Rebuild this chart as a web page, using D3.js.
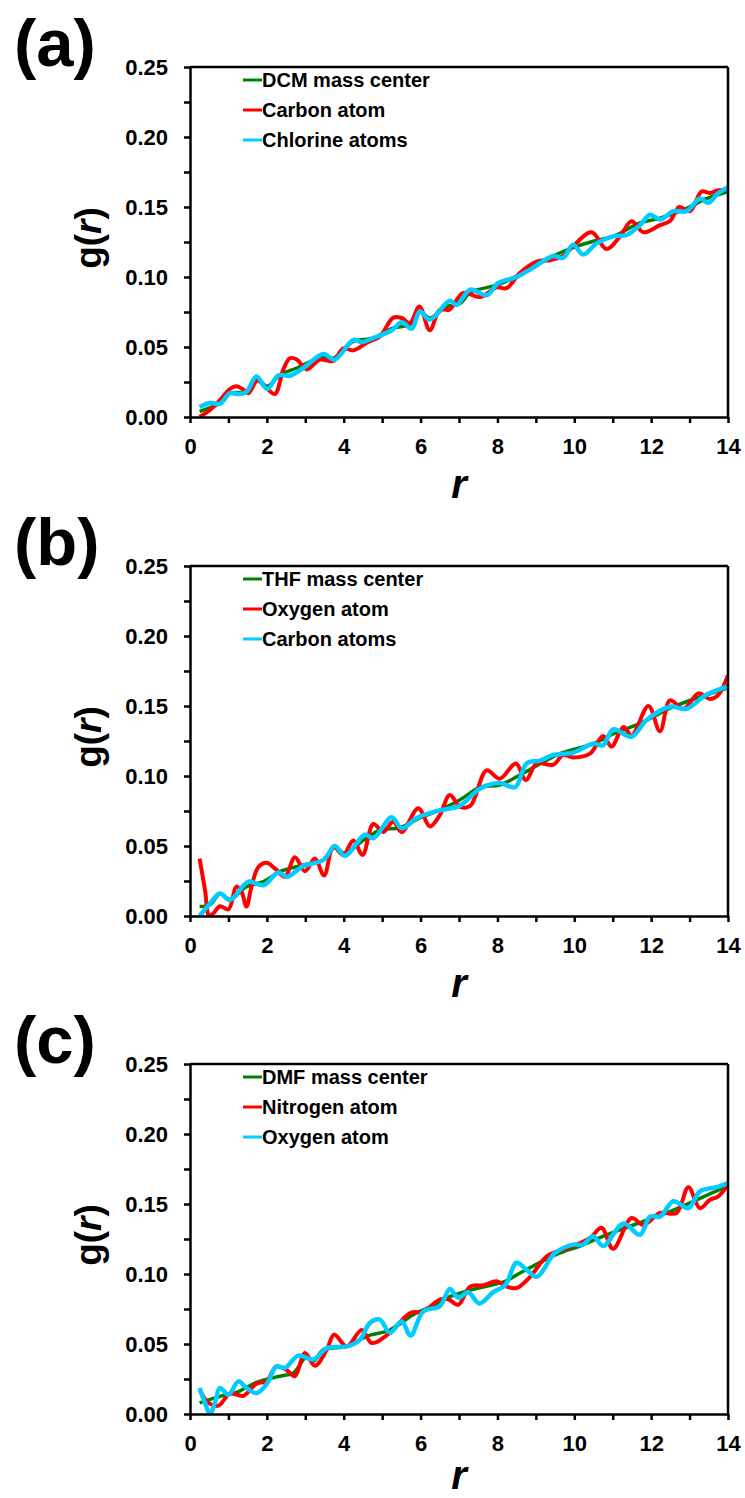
<!DOCTYPE html>
<html>
<head>
<meta charset="utf-8">
<script src="https://cdn.jsdelivr.net/npm/d3@7"></script>
<style>
  body { margin: 0; background: #fff; }
  svg text { font-family: Arial, "Liberation Sans", sans-serif; font-weight: bold; fill: #000; }
</style>
</head>
<body>
<svg id="chart" width="745" height="1498"></svg>
<script>
// ticks
const xTicks = d3.range(0, 15, 1)
const xLabelTicks = [0, 2, 4, 6, 8, 10, 12, 14]
const yTicks = [0, 0.025, 0.05, 0.075, 0.1, 0.125, 0.15, 0.175, 0.2, 0.225, 0.25]
const yLabelTicks = [0, 0.05, 0.1, 0.15, 0.2, 0.25]

// legend names
const aNames = ["DCM mass center", "Carbon atom", "Chlorine atoms"]
const bNames = ["THF mass center", "Oxygen atom", "Carbon atoms"]
const cNames = ["DMF mass center", "Nitrogen atom", "Oxygen atom"]
const colors = ["#008000", "#ff0000", "#00ccff"]

// (a) DCM  -- [r, g(r)]
const aMass = [[0.25,0.004],[0.78,0.010],[1.04,0.017],[1.47,0.018],[1.75,0.027],[2.01,0.022],[2.34,0.030],[2.78,0.035],[3.47,0.043],[3.73,0.042],[4.25,0.054],[4.77,0.0564],[5.29,0.0636],[5.72,0.066],[5.98,0.0755],[6.24,0.0707],[6.68,0.079],[7.03,0.081],[7.29,0.089],[8.02,0.0945],[8.67,0.103],[9.45,0.115],[9.97,0.121],[10.49,0.1255],[11.01,0.129],[11.71,0.1386],[12.23,0.142],[12.92,0.149],[13.44,0.156],[14.0,0.161]]
const aCarbon = [[0.25,0.0],[0.52,0.005],[0.78,0.012],[1.04,0.020],[1.21,0.022],[1.39,0.0195],[1.52,0.017],[1.75,0.026],[1.99,0.0207],[2.21,0.0164],[2.43,0.034],[2.60,0.042],[2.78,0.041],[3.04,0.034],[3.38,0.041],[3.73,0.040],[3.99,0.049],[4.25,0.0476],[4.60,0.053],[4.94,0.0576],[5.29,0.071],[5.51,0.0707],[5.72,0.067],[5.97,0.079],[6.24,0.062],[6.50,0.0767],[6.75,0.0767],[7.11,0.0886],[7.55,0.0857],[7.98,0.0926],[8.24,0.092],[8.59,0.103],[9.02,0.111],[9.37,0.112],[9.71,0.115],[9.97,0.122],[10.45,0.132],[10.84,0.120],[11.19,0.129],[11.49,0.1398],[11.80,0.132],[12.23,0.137],[12.49,0.140],[12.73,0.150],[13.01,0.147],[13.31,0.161],[13.53,0.160],[13.75,0.162],[14.0,0.162]]
const aChlorine = [[0.25,0.0071],[0.52,0.010],[0.78,0.0095],[1.04,0.017],[1.26,0.0164],[1.47,0.018],[1.73,0.029],[2.01,0.020],[2.30,0.0298],[2.60,0.0295],[2.95,0.035],[3.47,0.045],[3.76,0.041],[4.25,0.055],[4.47,0.0536],[4.77,0.0564],[5.25,0.062],[5.51,0.0676],[5.77,0.063],[5.98,0.0755],[6.24,0.0695],[6.76,0.083],[6.94,0.080],[7.29,0.091],[7.72,0.087],[8.02,0.0957],[8.50,0.100],[8.89,0.106],[9.45,0.115],[9.71,0.1136],[9.97,0.123],[10.23,0.116],[10.58,0.124],[11.01,0.129],[11.36,0.130],[11.71,0.137],[11.97,0.1445],[12.23,0.141],[12.58,0.147],[12.92,0.147],[13.27,0.156],[13.49,0.153],[13.75,0.160],[14.0,0.164]]

// (b) THF
const bMass = [[0.25,0.0067],[0.52,0.008],[0.78,0.0157],[1.04,0.012],[1.47,0.021],[1.91,0.0245],[2.34,0.0317],[2.95,0.0364],[3.47,0.040],[3.77,0.049],[4.03,0.0448],[4.51,0.054],[4.94,0.0614],[5.46,0.063],[5.98,0.070],[6.50,0.0757],[7.03,0.083],[7.55,0.092],[8.06,0.0936],[8.67,0.102],[9.63,0.116],[10.49,0.123],[11.01,0.130],[11.71,0.1376],[12.58,0.1495],[13.44,0.158],[14.0,0.163]]
const bOxygen = [[0.25,0.041],[0.39,0.0186],[0.50,0.0],[0.61,0.002],[0.78,0.007],[1.0,0.0048],[1.21,0.021],[1.34,0.0174],[1.47,0.0067],[1.60,0.021],[1.78,0.035],[1.99,0.038],[2.21,0.034],[2.47,0.028],[2.73,0.042],[2.99,0.032],[3.25,0.041],[3.49,0.029],[3.73,0.0495],[3.99,0.0436],[4.25,0.054],[4.49,0.0436],[4.77,0.0657],[5.03,0.060],[5.29,0.0674],[5.51,0.060],[5.94,0.077],[6.24,0.064],[6.50,0.072],[6.76,0.0864],[7.03,0.078],[7.29,0.0786],[7.72,0.104],[8.06,0.098],[8.48,0.109],[8.74,0.097],[9.02,0.109],[9.45,0.108],[9.71,0.115],[9.97,0.1133],[10.41,0.116],[10.75,0.1286],[10.97,0.121],[11.28,0.135],[11.49,0.129],[11.93,0.150],[12.23,0.132],[12.49,0.154],[12.84,0.148],[13.23,0.159],[13.53,0.155],[13.75,0.158],[14.0,0.172]]
const bCarbon = [[0.25,0.0],[0.52,0.009],[0.78,0.016],[1.04,0.0114],[1.52,0.0245],[1.91,0.022],[2.30,0.031],[2.52,0.028],[2.95,0.0357],[3.47,0.040],[3.77,0.050],[4.03,0.043],[4.55,0.058],[4.77,0.0555],[5.25,0.0705],[5.51,0.0626],[5.90,0.070],[6.42,0.075],[7.03,0.079],[7.55,0.091],[8.06,0.095],[8.46,0.092],[8.76,0.109],[9.11,0.111],[9.45,0.115],[9.97,0.1167],[10.49,0.123],[10.75,0.122],[11.01,0.1333],[11.49,0.128],[11.88,0.140],[12.49,0.1495],[12.92,0.148],[13.44,0.158],[14.0,0.164]]

// (c) DMF
const cMass = [[0.25,0.0079],[0.78,0.0126],[1.26,0.016],[1.73,0.0226],[2.34,0.027],[2.69,0.0293],[3.04,0.041],[3.21,0.0376],[3.47,0.046],[4.08,0.0483],[4.60,0.0555],[5.20,0.060],[5.81,0.071],[6.33,0.0774],[6.68,0.083],[7.37,0.089],[8.20,0.0948],[8.59,0.1007],[9.54,0.114],[10.15,0.120],[10.84,0.128],[11.54,0.135],[12.40,0.1436],[13.27,0.154],[14.0,0.163]]
const cNitrogen = [[0.25,0.0174],[0.48,0.0079],[0.74,0.006],[1.04,0.0145],[1.39,0.013],[1.73,0.0217],[1.99,0.0233],[2.25,0.034],[2.50,0.0317],[2.73,0.027],[2.99,0.0436],[3.25,0.0345],[3.56,0.046],[3.75,0.0567],[4.08,0.0483],[4.47,0.060],[4.73,0.0507],[5.20,0.058],[5.72,0.072],[6.07,0.0733],[6.50,0.0817],[6.72,0.082],[6.98,0.078],[7.29,0.091],[7.63,0.092],[7.98,0.0948],[8.24,0.091],[8.50,0.090],[8.85,0.098],[9.28,0.1126],[9.54,0.116],[9.97,0.120],[10.41,0.1257],[10.71,0.133],[11.01,0.118],[11.49,0.140],[11.80,0.135],[12.23,0.1436],[12.66,0.1436],[12.97,0.162],[13.27,0.147],[13.53,0.153],[13.75,0.1555],[14.0,0.164]]
const cOxygen = [[0.25,0.0186],[0.39,0.0079],[0.52,0.0],[0.65,0.008],[0.78,0.0186],[1.0,0.0138],[1.26,0.0233],[1.47,0.0186],[1.73,0.015],[2.01,0.022],[2.25,0.034],[2.47,0.0329],[2.82,0.0417],[3.21,0.039],[3.56,0.047],[4.08,0.0483],[4.42,0.053],[4.68,0.065],[4.94,0.0674],[5.20,0.058],[5.51,0.066],[5.74,0.056],[6.07,0.0733],[6.50,0.077],[6.76,0.0893],[6.98,0.083],[7.24,0.087],[7.53,0.079],[7.89,0.087],[8.20,0.092],[8.50,0.108],[8.76,0.103],[9.02,0.098],[9.50,0.115],[9.97,0.121],[10.23,0.121],[10.49,0.127],[10.75,0.120],[11.28,0.136],[11.71,0.128],[11.97,0.141],[12.23,0.141],[12.58,0.152],[12.97,0.147],[13.27,0.159],[13.70,0.162],[14.0,0.165]]

const svg = d3.select("#chart")
const left = 190, right = 728, plotH = 350

const x = d3.scaleLinear().domain([0, 14]).range([left, right])

function panel(top, tag, names, series, id) {
    const y = d3.scaleLinear().domain([0, 0.25]).range([top + plotH, top])
    const g = svg.append("g")

    // panel letter
    g.append("text")
        .attr("x", 14)
        .attr("y", top - 1)
        .style("font-size", "67px")
        .text(tag)

    // clip so the lines stay in the box
    g.append("clipPath").attr("id", "clip" + id)
        .append("rect")
        .attr("x", left).attr("y", top - 5)
        .attr("width", right - left).attr("height", plotH + 5)

    const line = d3.line()
        .x(d => x(d[0]))
        .y(d => y(d[1]))
        .curve(d3.curveCatmullRom.alpha(0.5))

    const widths = [3.5, 4, 4.5]
    series.forEach(function(s, i) {
        g.append("path")
            .datum(s)
            .attr("clip-path", "url(#clip" + id + ")")
            .attr("fill", "none")
            .attr("stroke", colors[i])
            .attr("stroke-width", widths[i])
            .attr("stroke-linejoin", "round")
            .attr("d", line)
    })

    // axes
    const xAxis = g.append("g")
        .attr("transform", "translate(0," + (top + plotH) + ")")
        .call(d3.axisBottom(x).tickValues(xTicks).tickSize(6).tickSizeOuter(0).tickPadding(15)
            .tickFormat(d => xLabelTicks.includes(d) ? d : ""))
    const yAxis = g.append("g")
        .attr("transform", "translate(" + left + ",0)")
        .call(d3.axisLeft(y).tickValues(yTicks).tickSize(6).tickSizeOuter(0).tickPadding(16)
            .tickFormat(d => yLabelTicks.some(v => Math.abs(v - d) < 1e-9) ? d3.format(".2f")(d) : ""))

    ;[xAxis, yAxis].forEach(function(a) {
        a.selectAll("path, line").attr("stroke", "#000").attr("stroke-width", 2.5)
        a.selectAll("text")
            .style("font-size", "22px")
            .style("font-family", "Arial, 'Liberation Sans', sans-serif")
            .style("font-weight", "bold")
            .attr("fill", "#000")
    })

    // frame top + right
    g.append("line")
        .attr("x1", left).attr("x2", right)
        .attr("y1", top).attr("y2", top)
        .attr("stroke", "#000").attr("stroke-width", 2.5)
    g.append("line")
        .attr("x1", right).attr("x2", right)
        .attr("y1", top).attr("y2", top + plotH)
        .attr("stroke", "#000").attr("stroke-width", 2.5)

    // axis titles
    const yl = g.append("text")
        .attr("transform", "translate(101," + (top + 171) + ") rotate(-90)")
        .attr("text-anchor", "middle")
        .style("font-size", "37px")
    yl.append("tspan").text("g(")
    yl.append("tspan").style("font-style", "italic").text("r")
    yl.append("tspan").text(")")

    g.append("text")
        .attr("x", (left + right) / 2)
        .attr("y", Math.min(top + plotH + 81, 1489))
        .attr("text-anchor", "middle")
        .style("font-size", "40px")
        .style("font-style", "italic")
        .text("r")

    // legend
    names.forEach(function(n, i) {
        const ly = top + 13 + i * 30
        g.append("line")
            .attr("x1", 243).attr("x2", 262)
            .attr("y1", ly).attr("y2", ly)
            .attr("stroke", colors[i]).attr("stroke-width", 3)
        g.append("text")
            .attr("x", 262)
            .attr("y", ly)
            .attr("dy", "0.35em")
            .style("font-size", "20px")
            .text(n)
    })
}

panel(67, "(a)", aNames, [aMass, aCarbon, aChlorine], "a")
panel(566, "(b)", bNames, [bMass, bOxygen, bCarbon], "b")
panel(1064, "(c)", cNames, [cMass, cNitrogen, cOxygen], "c")
</script>
</body>
</html>
